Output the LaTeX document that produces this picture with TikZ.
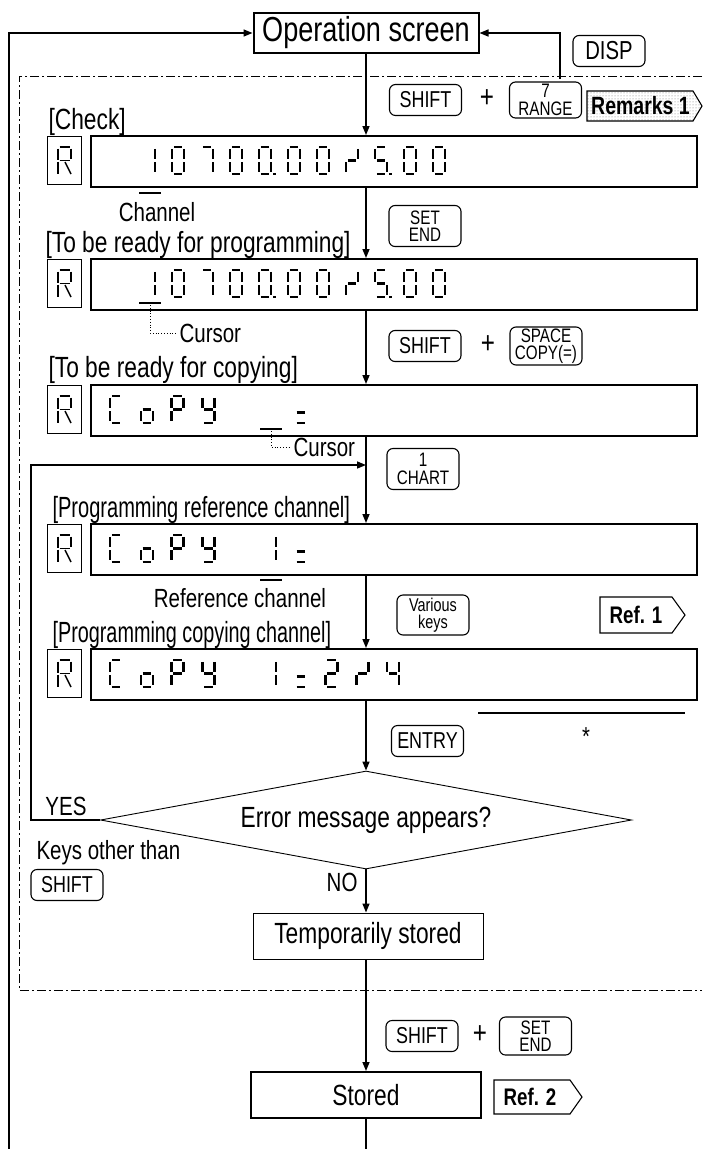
\documentclass[tikz,border=0pt]{standalone}
\usepackage{graphicx}
\usepackage{fontspec}
\setmainfont{Liberation Sans}[FakeStretch=0.78]
\usetikzlibrary{arrows.meta,patterns,shapes.geometric}

% seven-segment character: x, y(top), flags a b c d e f g p
\newcommand\dg[3]{\begin{scope}[shift={(#1,#2)}]\dgx#3\relax\end{scope}}
\def\dgx#1#2#3#4#5#6#7#8\relax{%
 \ifnum#1=1 \draw[seg] (1.8,0)--(10.2,0);\fi
 \ifnum#2=1 \draw[seg] (12,1.8)--(12,11.7);\fi
 \ifnum#3=1 \draw[seg] (12,15.3)--(12,25.2);\fi
 \ifnum#4=1 \draw[seg] (1.8,27)--(10.2,27);\fi
 \ifnum#5=1 \draw[seg] (0,15.3)--(0,25.2);\fi
 \ifnum#6=1 \draw[seg] (0,1.8)--(0,11.7);\fi
 \ifnum#7=1 \draw[seg] (1.8,13.5)--(10.2,13.5);\fi
 \ifnum#8=1 \fill (14.2,25.6) rectangle (16.8,28.2);\fi
 \ifnum#8=2 \draw[seg] (1.8,16.5)--(10.2,16.5);\draw[seg] (1.8,27)--(10.2,27);\fi
}
% segmented R
\newcommand\rg[2]{\begin{scope}[shift={(#1,#2)},line width=1.5pt]
 \draw (0,1.5)--(0,12.5); \draw (0,14.5)--(0,27);
 \draw (1.5,0)--(11.5,0); \draw (13,1.5)--(13,12);
 \draw (1.5,13.5)--(11.5,13.5); \draw (7,15)--(13,27);
\end{scope}}
% CoPY prefix at top y
\newcommand\copyw[1]{%
 \dg{110}{#1}{10011100}\dg{140.8}{#1}{00111010}%
 \dg{171.6}{#1}{11001110}\dg{202.4}{#1}{01110110}}

\begin{document}
\begin{tikzpicture}[x=1pt,y=-1pt,
 flow/.style={line width=1.5pt,-{Triangle[length=9pt,width=7pt]}},
 plain/.style={line width=1.5pt},
 key/.style={draw,rounded corners=6pt,line width=1.1pt,inner sep=0pt,align=center,minimum width=72pt,minimum height=31pt},
 disp/.style={draw,line width=2.2pt,inner sep=0pt,minimum width=606pt,minimum height=51pt,anchor=north west},
 rbox/.style={draw,line width=0.9pt,inner sep=0pt,minimum width=34pt,minimum height=48pt},
 seg/.style={line width=2.5pt},
 big/.style={font=\fontsize{29.2}{31}\selectfont},
 med/.style={font=\fontsize{26.3}{28}\selectfont},
 keyf/.style={font=\fontsize{23}{23}\selectfont},
 twof/.style={font=\fontsize{19.5}{17.5}\selectfont},
 plus/.style={font=\fontsize{31}{31}\selectfont},
 tagf/.style={font=\bfseries\fontsize{24}{24}\selectfont},
 dashdot/.style={line width=1pt,dash pattern=on 9pt off 3pt on 2pt off 3pt},
 tag/.style={line width=1.1pt},
 leader/.style={line width=0.8pt,dotted},
 bar/.style={line width=2.6pt}]
\useasboundingbox (0,0) rectangle (702,1149);

% dash-dot frame
\draw[dashdot] (702,76) -- (19,76) -- (19,990) -- (702,990);

% operation screen
\node[draw,line width=2pt,minimum width=225pt,minimum height=40pt,inner sep=0pt,font=\fontsize{34.7}{36}\selectfont] (op) at (366,33) {Operation screen};
\coordinate (top) at (9,1149);
\draw[flow] (top) |- (op.west);
\node[key,font=\fontsize{26}{26}\selectfont] (disp) at (609,51) {DISP};
\coordinate (dispc) at (560,79);
\draw[flow] (dispc) |- (op.east);

% row 1 keys
\node[key,keyf] (sh1) at (425.5,100) {SHIFT};
\node[plus] (pl1) at (487,99) {+};
\node[key,minimum height=36pt,twof] (rng) at (545.5,100) {7\\RANGE};
\draw[tag,pattern=dots,pattern color=black!55] (587,91) -- (693,91) -- (702,106) -- (693,121) -- (587,121) -- cycle;
\node[font=\bfseries\fontsize{25}{25}\selectfont,anchor=west,inner sep=0pt] (rem) at (591,106) {Remarks 1};

% display 1
\node[big,anchor=base west] (l1) at (45,129) {[Check]};
\node[disp] (d1) at (90,135) {};
\node[rbox] (r1) at (64,160.5) {};
\rg{58}{147}
\dg{143}{147}{01100000}\dg{172}{147}{11111100}\dg{201}{147}{11100000}
\dg{230}{147}{11111100}\dg{259}{147}{11111101}\dg{288}{147}{11111100}
\dg{317}{147}{11111100}\dg{346}{147}{01001010}\dg{375}{147}{10110111}
\dg{404}{147}{11111100}\dg{433}{147}{11111100}
\draw[bar] (139,193) -- (161,193);
\node[med] (ch) at (157,212) {Channel};
\node[key,minimum height=41pt,twof] (se1) at (425,226) {SET\\END};

% display 2
\node[big,anchor=base west] (l2) at (42,252) {[To be ready for programming]};
\node[disp] (d2) at (90,258) {};
\node[rbox] (r2) at (64,283.5) {};
\rg{58}{270}
\dg{143}{270}{01100000}\dg{172}{270}{11111100}\dg{201}{270}{11100000}
\dg{230}{270}{11111100}\dg{259}{270}{11111101}\dg{288}{270}{11111100}
\dg{317}{270}{11111100}\dg{346}{270}{01001010}\dg{375}{270}{10110111}
\dg{404}{270}{11111100}\dg{433}{270}{11111100}
\draw[bar] (139,303) -- (161,303);
\node[med,anchor=west] (cu1) at (176,333) {Cursor};
\draw[leader] (150,305) |- (cu1.west);
\node[key,keyf] (sh2) at (425,346) {SHIFT};
\node[plus] (pl2) at (488,345) {+};
\node[key,minimum height=38pt,twof] (sp) at (546,346) {SPACE\\COPY(=)};

% display 3
\node[big,anchor=base west] (l3) at (45,377) {[To be ready for copying]};
\node[disp] (d3) at (90,384) {};
\node[rbox] (r3) at (64,409.5) {};
\rg{58}{396}
\copyw{396}
\draw[bar] (260,429) -- (282,429);
\dg{294.8}{396}{00000002}
\node[med,anchor=west] (cu2) at (290,447) {Cursor};
\draw[leader] (271,431) |- (cu2.west);

% loop target and CHART key
\coordinate (lpc) at (366,465);
\coordinate (lpl) at (31,465);
\node[key,minimum height=41pt,twof] (cht) at (423,469) {1\\CHART};

% display 4
\node[big,anchor=base west] (l4) at (49,517) {\scalebox{0.88}[1]{[Programming reference channel]}};
\node[disp] (d4) at (90,523) {};
\node[rbox] (r4) at (64,548.5) {};
\rg{58}{535}
\copyw{535}
\dg{264}{535}{01100000}\dg{294.8}{535}{00000002}
\draw[bar] (260,580) -- (282,580);
\node[med] (rc) at (240,598) {Reference channel};
\node[key,minimum height=40pt,font=\fontsize{18.5}{17}\selectfont] (var) at (433,615) {Various\\keys};
\draw[tag] (600,597) -- (672,597) -- (685,615) -- (672,633) -- (600,633) -- cycle;
\node[tagf] (ref1) at (636,615) {Ref. 1};

% display 5
\node[big,anchor=base west] (l5) at (49,642) {\scalebox{0.87}[1]{[Programming copying channel]}};
\node[disp] (d5) at (90,648) {};
\node[rbox] (r5) at (64,673.5) {};
\rg{58}{660}
\copyw{660}
\dg{264}{660}{01100000}\dg{294.8}{660}{00000002}
\dg{325.6}{660}{11011010}\dg{356.4}{660}{01001010}\dg{387.2}{660}{01100110}

\draw[line width=1.3pt] (478,713) -- (685,713);
\node[key,keyf] (ent) at (427.5,741) {ENTRY};
\node[font=\fontsize{26}{26}\selectfont] (ast) at (586,737) {*};

% decision
\node[diamond,draw,line width=0.9pt,minimum width=531pt,minimum height=98pt,inner sep=0pt] (dia) at (366,820) {};
\node[big] (em) at (366,820) {Error message appears?};
\node[med] (yes) at (66,806) {YES};
\draw[flow] (dia.west) -| (lpl) -- (lpc);
\node[med,anchor=west] (kot) at (33,853) {Keys other than};
\node[key,keyf] (sh3) at (67,885) {SHIFT};
\node[med,anchor=east] (no) at (361,882) {NO};

\node[draw,line width=1pt,minimum width=230pt,minimum height=46pt,big,inner sep=0pt] (tmp) at (368,936) {Temporarily stored};

% bottom
\node[key,keyf] (sh4) at (422,1036) {SHIFT};
\node[plus] (pl3) at (480,1035) {+};
\node[key,minimum height=38pt,twof] (se2) at (535.5,1036) {SET\\END};
\node[draw,line width=2pt,minimum width=230pt,minimum height=46pt,big,inner sep=0pt] (st) at (366,1095) {Stored};
\draw[tag] (494,1080) -- (570,1080) -- (582,1097) -- (570,1114) -- (494,1114) -- cycle;
\node[tagf] (ref2) at (530,1097) {Ref. 2};
\coordinate (bot) at (366,1149);

% main flow
\draw[flow] (op.south) -- (op.south |- d1.north);
\draw[flow] (op.south |- d1.south) -- (op.south |- d2.north);
\draw[flow] (op.south |- d2.south) -- (op.south |- d3.north);
\draw[flow] (op.south |- d3.south) -- (op.south |- d4.north);
\draw[flow] (op.south |- d4.south) -- (op.south |- d5.north);
\draw[flow] (op.south |- d5.south) -- (dia.north);
\draw[flow] (dia.south) -- (dia.south |- tmp.north);
\draw[flow] (dia.south |- tmp.south) -- (dia.south |- st.north);
\draw[plain] (st.south) -- (bot);
\end{tikzpicture}
\end{document}
